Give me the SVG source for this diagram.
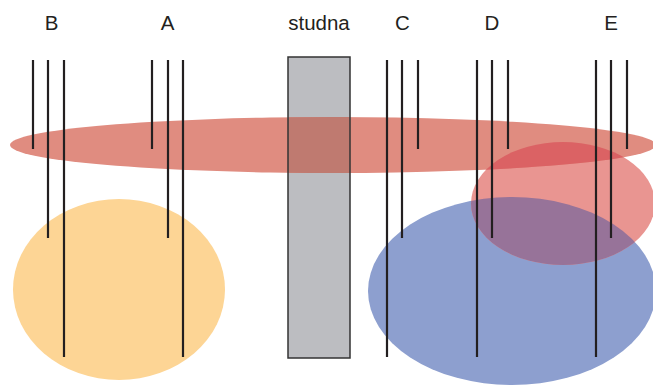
<svg xmlns="http://www.w3.org/2000/svg" width="653" height="385" viewBox="0 0 653 385">
<style>
.lbl{font-family:"Liberation Sans",Arial,sans-serif;font-size:20.5px;fill:#231f20;text-anchor:middle}
.ln{stroke:#231f20;stroke-width:2.2;fill:none}
</style>
<defs>
<clipPath id="cRect"><rect x="288" y="57" width="62" height="301"/></clipPath>
<clipPath id="cPink"><ellipse cx="563" cy="203.5" rx="92" ry="61.5"/></clipPath>
</defs>
<rect width="653" height="385" fill="#ffffff"/>
<g id="yellow"><ellipse cx="119" cy="289.5" rx="106" ry="90.5" fill="#fdd595"/></g>
<g id="studna-fill"><rect x="288" y="57" width="62" height="301" fill="#bcbdc1"/></g>
<g id="blue"><ellipse cx="512" cy="291" rx="144" ry="94" fill="#8d9fcf"/></g>
<g id="pink"><ellipse cx="563" cy="203.5" rx="92" ry="61.5" fill="#e99591"/></g>
<g id="red"><ellipse cx="333" cy="145" rx="323" ry="28" fill="#e08c80"/></g>
<g id="overlaps">
<ellipse cx="333" cy="145" rx="323" ry="28" fill="#bf7a70" clip-path="url(#cRect)"/>
<ellipse cx="333" cy="145" rx="323" ry="28" fill="#db6264" clip-path="url(#cPink)"/>
<ellipse cx="512" cy="291" rx="144" ry="94" fill="#977399" clip-path="url(#cPink)"/>
</g>
<g id="studna"><rect x="288" y="57" width="62" height="301" fill="none" stroke="#333333" stroke-width="1.5"/></g>
<g id="connectors">
<line class="ln" x1="33" y1="60" x2="33" y2="149"/>
<line class="ln" x1="48" y1="60" x2="48" y2="238"/>
<line class="ln" x1="64" y1="60" x2="64" y2="357"/>
<line class="ln" x1="152" y1="60" x2="152" y2="149"/>
<line class="ln" x1="168" y1="60" x2="168" y2="238"/>
<line class="ln" x1="183" y1="60" x2="183" y2="357"/>
<line class="ln" x1="387" y1="60" x2="387" y2="357"/>
<line class="ln" x1="402" y1="60" x2="402" y2="238"/>
<line class="ln" x1="418" y1="60" x2="418" y2="149"/>
<line class="ln" x1="477" y1="60" x2="477" y2="357"/>
<line class="ln" x1="492" y1="60" x2="492" y2="238"/>
<line class="ln" x1="508" y1="60" x2="508" y2="149"/>
<line class="ln" x1="596" y1="60" x2="596" y2="357"/>
<line class="ln" x1="611" y1="60" x2="611" y2="238"/>
<line class="ln" x1="627" y1="60" x2="627" y2="149"/>
</g>
<g id="labels">
<text class="lbl" x="51.5" y="29.5">B</text>
<text class="lbl" x="167.5" y="29.5">A</text>
<text class="lbl" x="319" y="29.5">studna</text>
<text class="lbl" x="402.5" y="29.5">C</text>
<text class="lbl" x="492" y="29.5">D</text>
<text class="lbl" x="611" y="29.5">E</text>
</g>
</svg>
